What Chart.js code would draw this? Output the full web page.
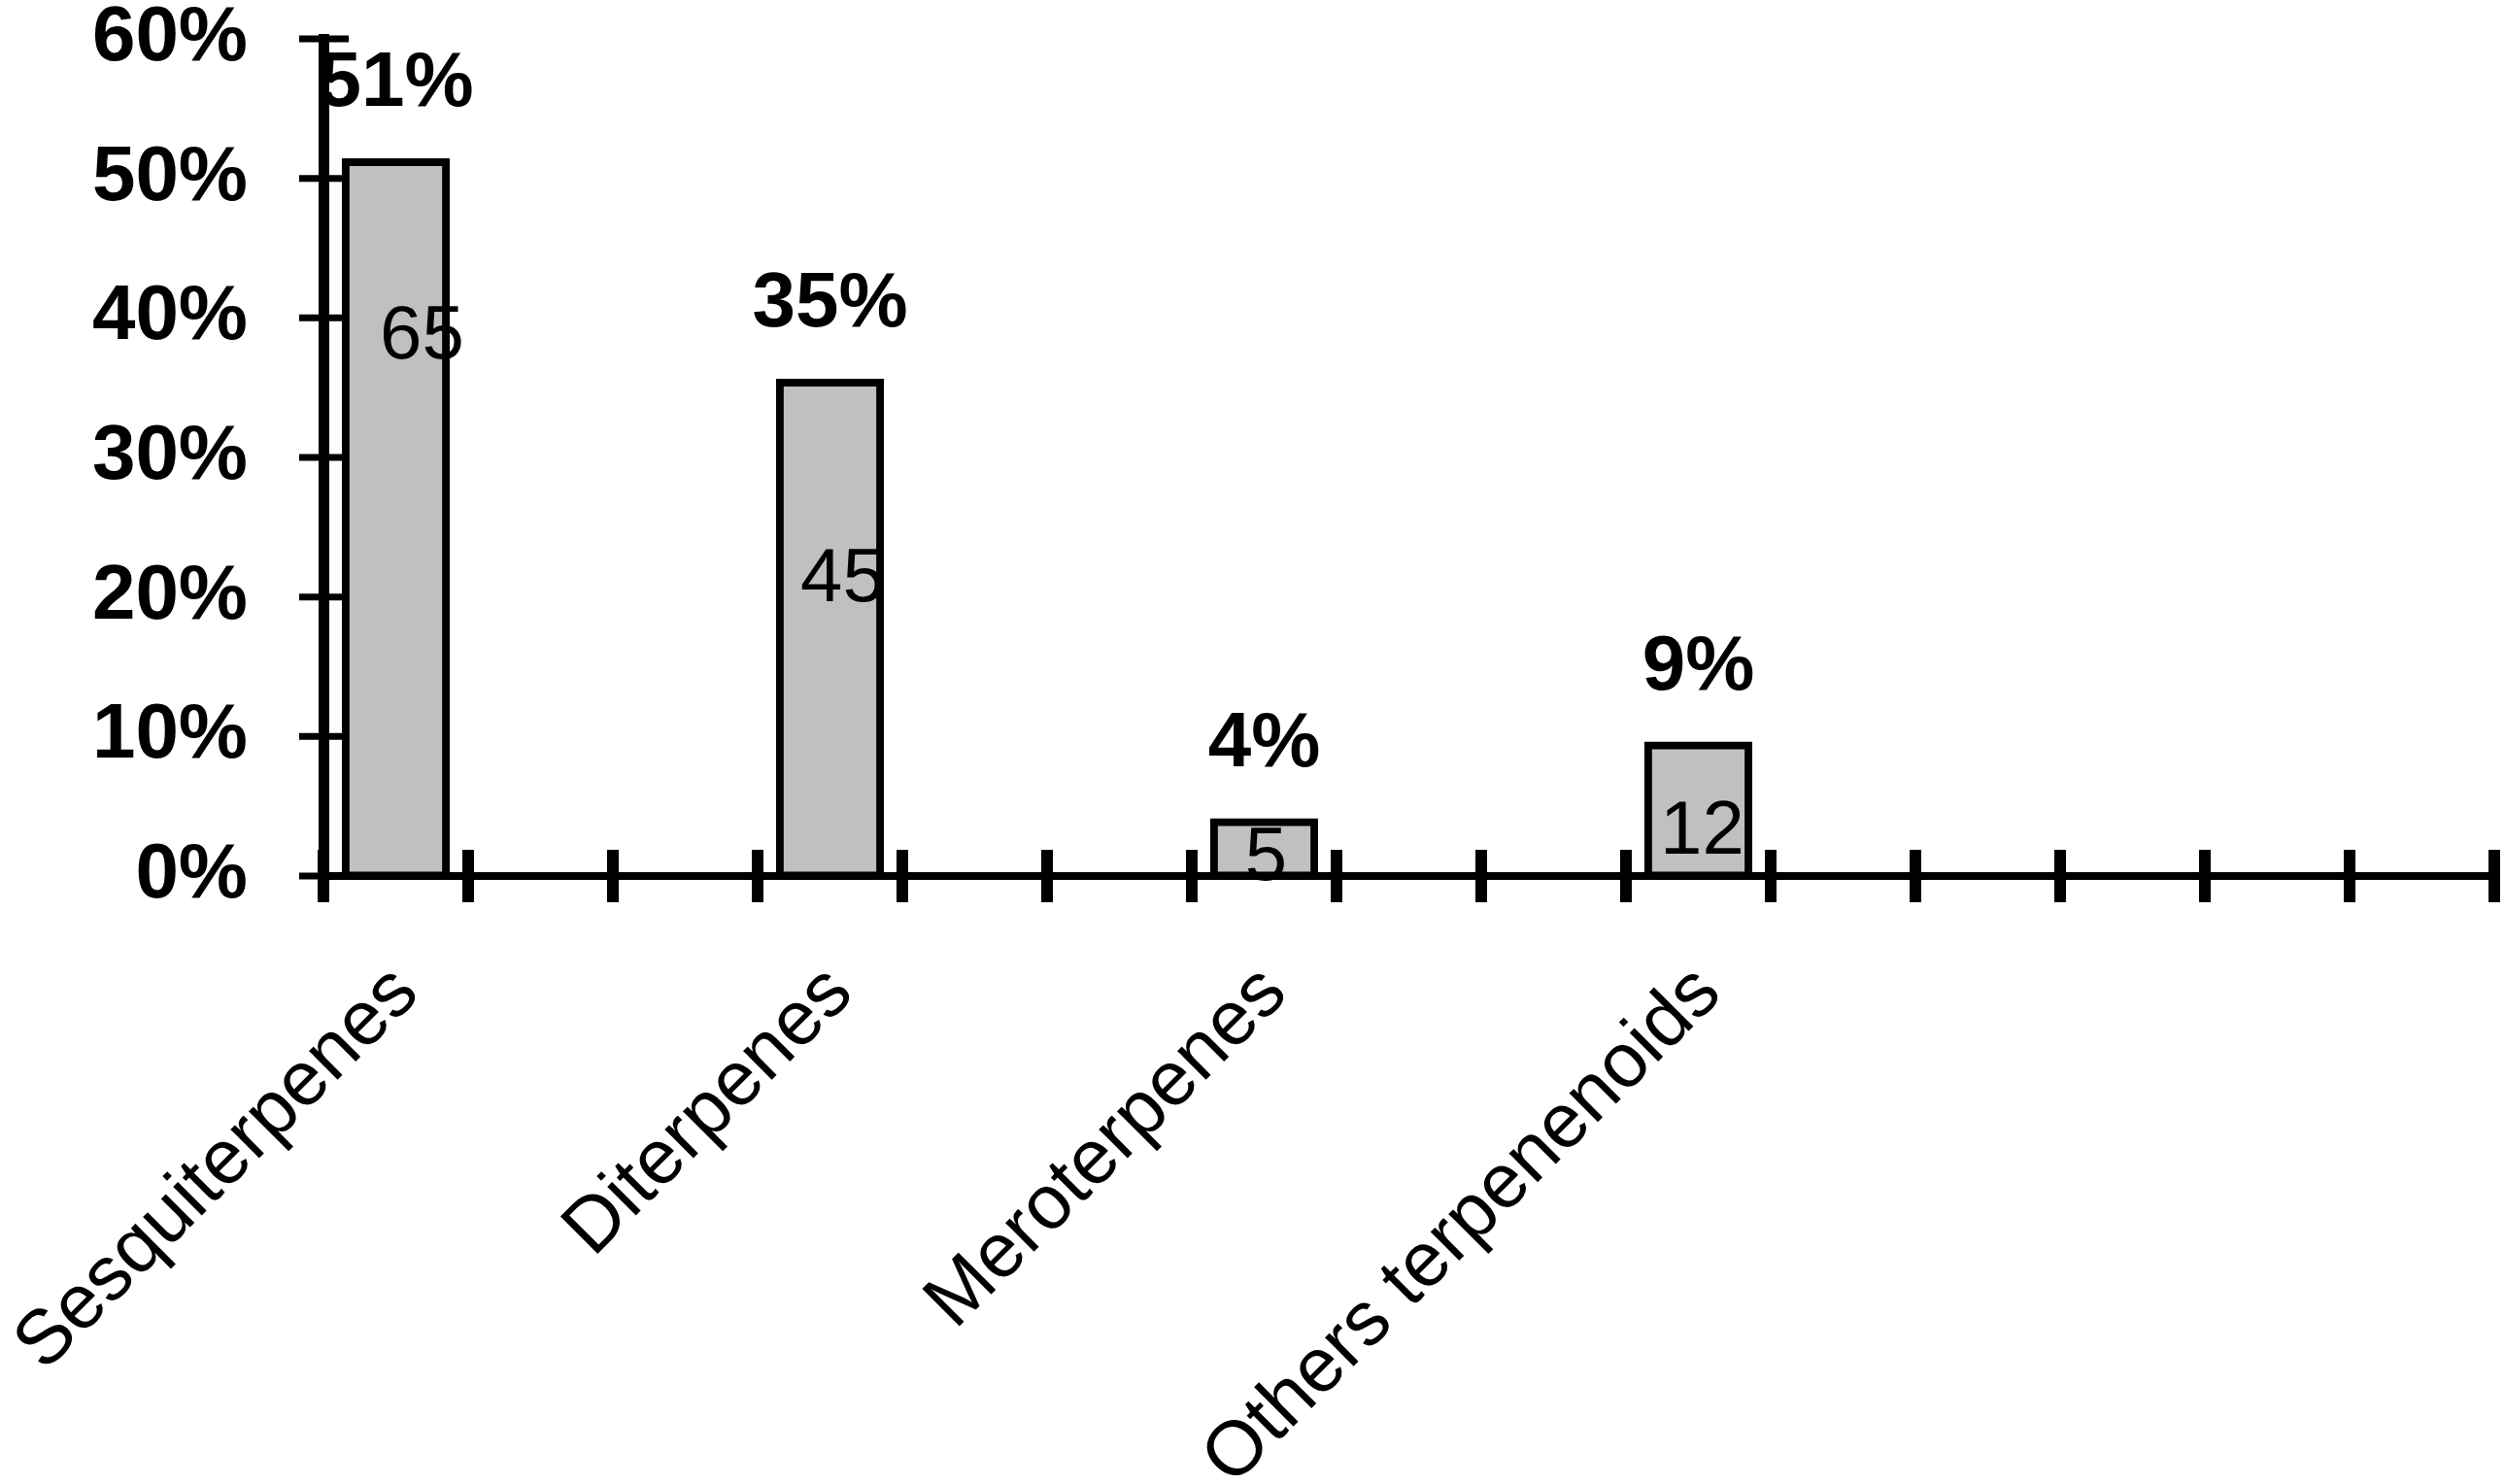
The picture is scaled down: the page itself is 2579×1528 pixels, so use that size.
<!DOCTYPE html>
<html>
<head>
<meta charset="utf-8">
<script src="https://cdn.jsdelivr.net/npm/chart.js@4.4.1/dist/chart.umd.min.js"></script>
<style>
  body { margin: 0; background: #ffffff; }
  canvas { display: block; }
</style>
</head>
<body>
<canvas id="terpenos" width="2579" height="1528"></canvas>
<script>
// categorias (15 posicoes no eixo, so 4 com barra)
var categorias = ['Sesquiterpenes', '', '', 'Diterpenes', '', '', 'Meroterpenes', '', '', 'Others terpenenoids', '', '', '', '', ''];
var percentuais = [51.2, null, null, 35.4, null, null, 3.9, null, null, 9.4, null, null, null, null, null];
var quantidades = [65, null, null, 45, null, null, 5, null, null, 12, null, null, null, null, null];
var ticksY = [0, 10, 20, 30, 40, 50, 60];

// onde os numeros de dentro das barras ficam (em % do eixo y, e deslocamento em px)
var posQuantidade = [38.6, null, null, 21.2, null, null, 1.25, null, null, 3.1];
var desvioQuantidade = [27, null, null, 13, null, null, 2, null, null, 4];

var fonte = '"Liberation Sans", Arial, sans-serif';

// marcas dos eixos cruzando a linha (pra dentro e pra fora)
var marcasEixos = {
    id: 'marcasEixos',
    beforeDatasetsDraw: function (chart) {
        var ctx = chart.ctx;
        var x = chart.scales.x;
        var y = chart.scales.y;
        var area = chart.chartArea;
        ctx.save();
        ctx.strokeStyle = '#000000';
        ctx.lineWidth = 7;
        y.ticks.forEach(function (t) {
            var py = y.getPixelForValue(t.value);
            ctx.beginPath();
            ctx.moveTo(area.left - 25, py);
            ctx.lineTo(area.left + 26, py);
            ctx.stroke();
        });
        ctx.lineWidth = 12;
        for (var i = 0; i <= categorias.length; i++) {
            var px = x.getPixelForDecimal(i / categorias.length);
            ctx.beginPath();
            ctx.moveTo(px, area.bottom - 27);
            ctx.lineTo(px, area.bottom + 27);
            ctx.stroke();
        }
        ctx.restore();
    },
    afterDatasetsDraw: function (chart) {
        var ctx = chart.ctx;
        var y = chart.scales.y;
        var barras = chart.getDatasetMeta(0).data;
        ctx.save();
        ctx.fillStyle = '#000000';
        ctx.textAlign = 'center';
        ctx.textBaseline = 'middle';
        barras.forEach(function (barra, i) {
            if (percentuais[i] == null) return;
            ctx.font = 'bold 80px ' + fonte;
            ctx.fillText(Math.round(percentuais[i]) + '%', barra.x, barra.y - 79);
            ctx.font = '78px ' + fonte;
            ctx.fillText(String(quantidades[i]), barra.x + desvioQuantidade[i], y.getPixelForValue(posQuantidade[i]));
        });
        ctx.restore();
    }
};

var ctxTerpenos = document.getElementById('terpenos').getContext('2d');
var Terpenos =
    new Chart(ctxTerpenos,
        {
            type: 'bar',
            data: {
                labels: categorias,
                datasets: [{
                    label: 'Terpenoids',
                    data: percentuais,
                    backgroundColor: '#c0c0c0',
                    borderColor: '#000000',
                    borderWidth: 8,
                    borderSkipped: false,
                    inflateAmount: 3.5,
                    barPercentage: 0.7,
                    categoryPercentage: 1
                }]
            },
            options: {
                responsive: false,
                animation: false,
                layout: { padding: { top: 40, right: 11, left: 0, bottom: 0 } },
                plugins: {
                    legend: { display: false },
                    tooltip: { enabled: false }
                },
                scales: {
                    x: {
                        grid: { display: false },
                        border: { display: true, color: '#000000', width: 8 },
                        ticks: {
                            autoSkip: false,
                            minRotation: 45,
                            maxRotation: 45,
                            padding: 72,
                            labelOffset: 11,
                            color: '#000000',
                            font: { family: fonte, size: 79, lineHeight: 1 }
                        },
                        afterFit: function (scale) {
                            scale.height = 626;
                            scale.paddingLeft = 0;
                            scale.paddingRight = 0;
                        }
                    },
                    y: {
                        min: 0,
                        max: 60,
                        grid: { display: false },
                        border: { display: true, color: '#000000', width: 11 },
                        afterBuildTicks: function (scale) {
                            scale.ticks = ticksY.map(function (v) { return { value: v }; });
                        },
                        ticks: {
                            padding: 70,
                            color: '#000000',
                            font: { family: fonte, size: 80, weight: 'bold', lineHeight: 1 },
                            callback: function (v) { return v + '%'; }
                        },
                        afterFit: function (scale) {
                            scale.width = 333;
                            scale.paddingTop = 0;
                            scale.paddingBottom = 0;
                        }
                    }
                }
            },
            plugins: [marcasEixos]
        });
</script>
</body>
</html>
